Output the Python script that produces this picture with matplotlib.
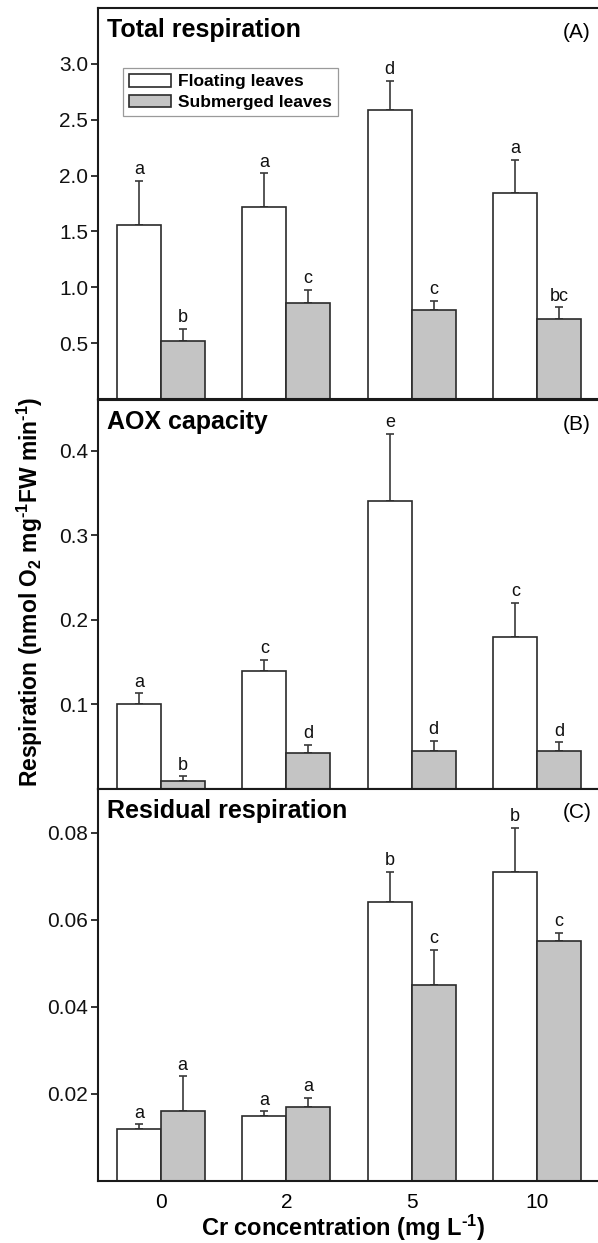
import matplotlib
matplotlib.use("Agg")
import matplotlib.pyplot as plt
from matplotlib.patches import Patch
import numpy as np

plt.rcParams['font.family'] = ['Liberation Sans', 'DejaVu Sans']
plt.rcParams['mathtext.fontset'] = 'custom'
plt.rcParams['mathtext.rm'] = 'Liberation Sans:bold'
plt.rcParams['mathtext.bf'] = 'Liberation Sans:bold'
plt.rcParams['mathtext.it'] = 'Liberation Sans:italic'

# ---------------- data ----------------
conc_labels = ['0', '2', '5', '10']

total_float = [1.56, 1.72, 2.59, 1.84]
total_float_err = [0.39, 0.30, 0.26, 0.30]
total_sub = [0.52, 0.86, 0.80, 0.72]
total_sub_err = [0.11, 0.12, 0.08, 0.10]
total_float_letters = ['a', 'a', 'd', 'a']
total_sub_letters = ['b', 'c', 'c', 'bc']

aox_float = [0.100, 0.140, 0.340, 0.180]
aox_float_err = [0.013, 0.013, 0.080, 0.040]
aox_sub = [0.009, 0.042, 0.045, 0.045]
aox_sub_err = [0.006, 0.010, 0.012, 0.010]
aox_float_letters = ['a', 'c', 'e', 'c']
aox_sub_letters = ['b', 'd', 'd', 'd']

resid_float = [0.012, 0.015, 0.064, 0.071]
resid_float_err = [0.001, 0.001, 0.007, 0.010]
resid_sub = [0.016, 0.017, 0.045, 0.055]
resid_sub_err = [0.008, 0.002, 0.008, 0.002]
resid_float_letters = ['a', 'a', 'b', 'b']
resid_sub_letters = ['a', 'a', 'c', 'c']

panel_titles = ['Total respiration', 'AOX capacity', 'Residual respiration']
panel_tags = ['(A)', '(B)', '(C)']
ylims = [(0, 3.5), (0, 0.46), (0, 0.09)]
yticks = [[0.5, 1.0, 1.5, 2.0, 2.5, 3.0], [0.1, 0.2, 0.3, 0.4], [0.02, 0.04, 0.06, 0.08]]
ytick_fmt = ['{:.1f}', '{:.1f}', '{:.2f}']
series_names = ['Floating leaves', 'Submerged leaves']

# ---------------- style ----------------
W, H = 598, 1243
fig = plt.figure(figsize=(W / 100, H / 100), dpi=100)

edge = '#2b2b2b'
sub_color = '#c4c4c4'
bar_w = 0.35

left = 98 / W
width = (600 - 98) / W
rows = [(8, 399), (400, 789), (789, 1181)]

panels = [
    (total_float, total_float_err, total_sub, total_sub_err, total_float_letters, total_sub_letters),
    (aox_float, aox_float_err, aox_sub, aox_sub_err, aox_float_letters, aox_sub_letters),
    (resid_float, resid_float_err, resid_sub, resid_sub_err, resid_float_letters, resid_sub_letters),
]

x = np.arange(len(conc_labels))
axes = []
for i, (top, bot) in enumerate(rows):
    ax = fig.add_axes([left, 1 - bot / H, width, (bot - top) / H])
    axes.append(ax)
    fv, fe, sv, se, fl, sl = panels[i]
    ax.bar(x - bar_w / 2, fv, bar_w, color='white', edgecolor=edge, linewidth=1.2, zorder=2)
    ax.bar(x + bar_w / 2, sv, bar_w, color=sub_color, edgecolor=edge, linewidth=1.2, zorder=2)
    ax.errorbar(x - bar_w / 2, fv, yerr=[np.zeros(len(fv)), fe], fmt='none',
                ecolor='#3a3a3a', elinewidth=1.2, capsize=3, capthick=1.2, zorder=1)
    ax.errorbar(x + bar_w / 2, sv, yerr=[np.zeros(len(sv)), se], fmt='none',
                ecolor='#3a3a3a', elinewidth=1.2, capsize=3, capthick=1.2, zorder=1)
    for xi, v, e, l in zip(x - bar_w / 2, fv, fe, fl):
        ax.annotate(l, (xi, v + e), xytext=(0, 2), textcoords='offset points',
                    ha='center', va='bottom', fontsize=13, color='#111111')
    for xi, v, e, l in zip(x + bar_w / 2, sv, se, sl):
        ax.annotate(l, (xi, v + e), xytext=(0, 2), textcoords='offset points',
                    ha='center', va='bottom', fontsize=13, color='#111111')
    ax.set_xlim(-0.5, 3.5)
    ax.set_ylim(*ylims[i])
    ax.set_yticks(yticks[i])
    ax.set_yticklabels([ytick_fmt[i].format(t) for t in yticks[i]])
    ax.tick_params(axis='y', direction='out', length=5, width=1.2, labelsize=15, pad=2, colors='#111111')
    ax.tick_params(axis='x', length=0, labelsize=15, pad=9)
    ax.set_xticks(x)
    if i < 2:
        ax.set_xticklabels([])
    else:
        ax.set_xticklabels(conc_labels)
    for s in ax.spines.values():
        s.set_linewidth(1.5)
        s.set_color('#1a1a1a')
    ax.text(9 / (600 - 98), 1 - 22 / (bot - top), panel_titles[i], transform=ax.transAxes,
            fontsize=18, fontweight='bold', ha='left', va='center')
    ax.text((577 - 98) / (600 - 98), 1 - 24 / (bot - top), panel_tags[i], transform=ax.transAxes,
            fontsize=15, ha='center', va='center')

handles = [Patch(facecolor='white', edgecolor=edge, linewidth=1.2),
           Patch(facecolor=sub_color, edgecolor=edge, linewidth=1.2)]
leg = axes[0].legend(handles, series_names, loc='upper left',
                     bbox_to_anchor=((123 - 98) / 502, 1 - (68 - 8) / 391),
                     prop={'weight': 'bold', 'size': 12.5}, frameon=True, fancybox=False,
                     edgecolor='#9a9a9a', framealpha=1, borderpad=0.35, labelspacing=0.3,
                     handlelength=2.4, handleheight=0.75, handletextpad=0.4, borderaxespad=0)
leg.get_frame().set_linewidth(0.9)

fig.text(30 / W, 1 - 592 / H,
         r'Respiration (nmol O$_\mathbf{2}$ mg$^{\text{-}\mathbf{1}}$FW min$^{\text{-}\mathbf{1}}$)',
         rotation=90, ha='center', va='center', fontsize=16.5, fontweight='bold')
fig.text((98 + 600) / 2 / W - 0.01, 1 - 1228 / H, r'Cr concentration (mg $\mathbf{L}^{\text{-}\mathbf{1}}$)',
         ha='center', va='center', fontsize=17, fontweight='bold')

fig.savefig('out.png', dpi=100)
